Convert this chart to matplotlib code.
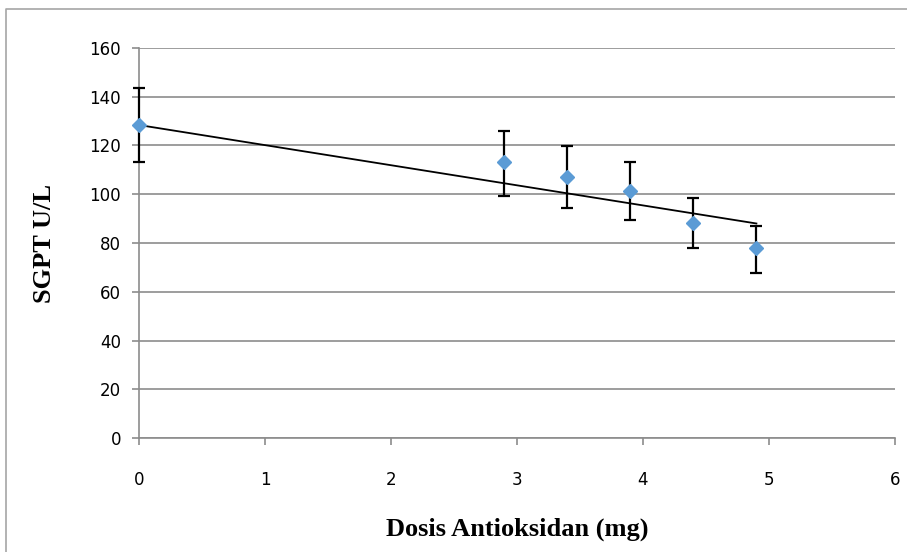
import matplotlib
matplotlib.use("Agg")
import matplotlib.pyplot as plt
from matplotlib.lines import Line2D
from matplotlib import font_manager

dose = [0, 2.9, 3.4, 3.9, 4.4, 4.9]
sgpt = [128.4, 113.1, 107.2, 101.3, 88.3, 78.1]
err_low = [15.3, 13.8, 13.0, 12.0, 10.5, 10.3]
err_high = [15.1, 13.0, 12.6, 11.8, 10.0, 8.8]
trend_x = [0, 4.9]
trend_y = [128.4, 88.0]
x_ticks = [0, 1, 2, 3, 4, 5, 6]
y_ticks = [0, 20, 40, 60, 80, 100, 120, 140, 160]

names = {f.name for f in font_manager.fontManager.ttflist}
tick_font = "Liberation Sans Narrow" if "Liberation Sans Narrow" in names else "DejaVu Sans"

fig = plt.figure(figsize=(9.07, 5.52), dpi=100)
ax = fig.add_axes([139/907, 1-438/552, (895-139)/907, (438-48)/552])

fx, fy = 5.5/907, 1-8.5/552
fig.add_artist(Line2D([fx, fx, 1.0], [0.0, fy, fy], transform=fig.transFigure,
                      color="#a6a6a6", linewidth=1.2))

ax.set_xlim(0, 6)
ax.set_ylim(0, 160)
ax.set_xticks(x_ticks)
ax.set_yticks(y_ticks)
ax.yaxis.grid(True, color="#8c8c8c", linewidth=1.2)
ax.set_axisbelow(True)
for s in ["top", "right"]:
    ax.spines[s].set_visible(False)
for s in ["left", "bottom"]:
    ax.spines[s].set_color("#8c8c8c")
    ax.spines[s].set_linewidth(1.2)
ax.tick_params(axis="both", colors="#8c8c8c", length=5, width=1.2, direction="out",
               labelcolor="black", labelsize=12, pad=8)
ax.tick_params(axis="x", pad=19)
for lab in ax.get_xticklabels() + ax.get_yticklabels():
    lab.set_fontfamily(tick_font)

ax.plot(trend_x, trend_y, color="black", linewidth=1.3, zorder=3)
ax.errorbar(dose, sgpt, yerr=[err_low, err_high], fmt="D", color="#5b9bd5",
            markersize=7, ecolor="black", elinewidth=1.6, capsize=4, capthick=1.6,
            zorder=4, clip_on=False)

ax.set_xlabel("Dosis Antioksidan (mg)", fontfamily="Liberation Serif", fontweight="bold",
              fontsize=19, labelpad=20)
ax.set_ylabel("SGPT U/L", fontfamily="Liberation Serif", fontweight="bold",
              fontsize=19, labelpad=24)

fig.savefig("out.png", dpi=100)
